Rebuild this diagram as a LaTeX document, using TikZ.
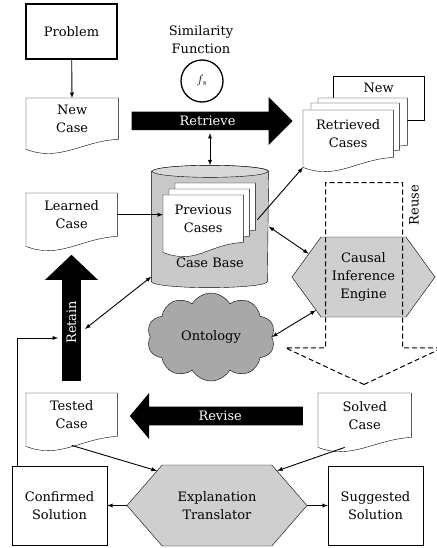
\documentclass[tikz,border=0pt]{standalone}
\usepackage{fontspec}
\setmainfont{DejaVu Serif}
\usepackage{tikz}
\usetikzlibrary{shapes.geometric, shapes.symbols, shapes.arrows, arrows, calc, backgrounds}
\pgfdeclarelayer{sheets}
\pgfsetlayers{background,sheets,main}

% paper sheet with a wavy lower edge, drawn round a node
\newcommand{\sheet}[1]{\draw[fill=white] ($(#1.south west)+(0,10)$) -- (#1.north west) -- (#1.north east) -- (#1.south east) .. controls ($(#1.south east)+(-37,2)$) and ($(#1.south west)+(34,23)$) .. ($(#1.south west)+(0,10)$) -- cycle;}

\begin{document}
\begin{tikzpicture}[x=1pt, y=-1pt, line width=1.3pt, font=\fontsize{13}{18}\selectfont]
\tikzstyle{box} = [rectangle, draw, fill=white, align=center, minimum width=95pt, minimum height=79pt]
\tikzstyle{doc} = [rectangle, align=center, anchor=north west, inner sep=2pt]
\tikzstyle{hexa} = [signal, signal to=west and east, draw, fill=gray!38, align=center, inner sep=2pt]
\tikzstyle{bigarrow} = [single arrow, fill=black, text=white, inner sep=2pt, anchor=tail]
\tikzstyle{arrow} = [->, >=latex, line width=0.9pt]
\tikzstyle{dblarrow} = [<->, >=latex, line width=0.9pt]

\useasboundingbox (0,0) rectangle (436,548);

% top row
\node (prob) [box, minimum width=91pt, minimum height=55pt] at (71.5,31.5) {Problem};
\node (newc) [doc, minimum width=91pt, minimum height=40pt] at (26,98) {New\\Case};
\node (simf) [align=center] at (201,40) {Similarity\\Function};
\node (fs) [circle, draw, minimum size=42pt, inner sep=0pt] at (202,81) {$f_s$};
\node (retrieve) [bigarrow, minimum height=161pt, minimum width=48pt, single arrow head extend=12pt, single arrow tip angle=90] at (131,121) {Retrieve};

% case base
\node (cbase) [minimum width=116pt, minimum height=109pt] at (210,226.5) {};
\begin{pgfonlayer}{background}
\draw[fill=gray!42] (cbase.north west) -- (cbase.south west) arc[start angle=180, end angle=360, x radius=58pt, y radius=6pt] -- (cbase.north east) arc[start angle=0, end angle=180, x radius=58pt, y radius=6pt] -- cycle;
\draw[fill=gray!30] (cbase.north) ellipse[x radius=58pt, y radius=6pt];
\end{pgfonlayer}
\node (cbtext) at (210,263) {Case Base};
\node (prev3) [doc, minimum width=80pt, minimum height=47pt] at (175,183) {};
\node (prev2) [doc, minimum width=80pt, minimum height=47pt] at (169,189) {};
\node (prev1) [doc, minimum width=80pt, minimum height=47pt] at (163,195) {Previous\\Cases};

% retrieved cases
\node (ret3) [doc, minimum width=89pt, minimum height=47pt] at (318,98) {};
\node (ret2) [doc, minimum width=88pt, minimum height=47pt] at (311,103) {};
\node (ret1) [doc, minimum width=90pt, minimum height=47pt] at (303,110) {Retrieved\\Cases};

\node (learned) [doc, minimum width=91pt, minimum height=43pt] at (26,193) {Learned\\Case};
\node (retain) [bigarrow, rotate=90, minimum height=126pt, minimum width=53pt, single arrow head extend=13pt, single arrow tip angle=93] at (71.5,381) {Retain};

\node (onto) [cloud, cloud puffs=10, cloud puff arc=120, aspect=1.5, draw, fill=gray!68, minimum width=128pt, minimum height=88pt] at (211,337) {Ontology};
\node (cie) [hexa, minimum width=143pt, minimum height=80pt, signal pointer angle=108] at (363.5,277) {Causal\\Inference\\Engine};
\node (reuse) [single arrow, draw, dash pattern=on 5pt off 3pt, line width=1pt, anchor=tail, rotate=-90, inner sep=0pt, text height=38pt, text depth=38pt, minimum height=202pt, single arrow head extend=40pt, single arrow tip angle=130] at (364,182) {};
\node (reusetext) [rotate=90] at (414,205) {Reuse};

% revise row
\node (revise) [bigarrow, shape border rotate=180, minimum height=173pt, minimum width=46pt, single arrow head extend=10.5pt, single arrow tip angle=100] at (303,416) {Revise};
\node (tested) [doc, minimum width=91pt, minimum height=43pt] at (26,393) {Tested\\Case};
\node (solved) [doc, minimum width=93pt, minimum height=44pt] at (318,393) {Solved\\Case};

% bottom row
\node (expl) [hexa, minimum width=180pt, minimum height=81pt, signal pointer angle=98] at (217,505.5) {Explanation\\Translator};
\node (conf) [box] at (59.5,505.5) {Confirmed\\Solution};
\node (sugg) [box] at (375.5,505.5) {Suggested\\Solution};

\begin{pgfonlayer}{sheets}
\sheet{newc}
\sheet{learned}
\sheet{tested}
\sheet{solved}
\sheet{prev3}
\sheet{prev2}
\sheet{prev1}
\node (newtag) [rectangle, draw, fill=white, anchor=north west, minimum width=91pt, minimum height=44pt, text depth=20pt] at (333,76) {New};
\sheet{ret3}
\sheet{ret2}
\sheet{ret1}
\end{pgfonlayer}

% connectors
\draw [arrow] (prob) -- (newc);
\draw [dblarrow, shorten <=12pt, shorten >=6pt] (cbase.north |- retrieve.center) -- (cbase.north);
\draw [arrow] (learned.east) -- (learned.east -| prev1.west);
\draw [arrow] ($(prev3.east)+(2,13)$) -- ($(ret1.south west)+(0,10)$);
\draw [dblarrow] (cbase.east) -- (cie.157);
\draw [dblarrow] (onto.east) -- (cie.215);
\draw [dblarrow] ($(cbase.south west)+(0,-5)$) -- ($(retain.tail)+(13.5,-52)$);
\draw [arrow] ($(conf.north west)+(6,0)$) |- ($(retain.tail)+(-13.5,-43)$);
\draw [arrow] ($(tested.south)+(0,9)$) -- (expl.150);
\draw [arrow] ($(solved.south)+(-20,10)$) -- (expl.30);
\draw [arrow] (expl.west) -- (conf.east);
\draw [arrow] (expl.east) -- (sugg.west);

\end{tikzpicture}
\end{document}
